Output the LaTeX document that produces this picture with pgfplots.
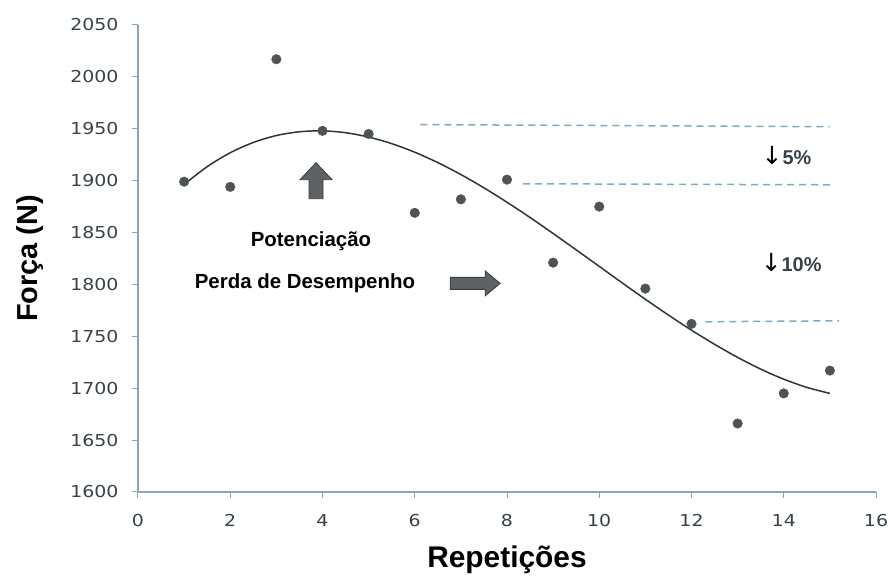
\documentclass[border=0pt]{standalone}
\usepackage{fontspec}
\setmainfont{Liberation Sans}
\newfontfamily\tickfont[FakeStretch=1.15]{DejaVu Sans}
\newfontfamily\symfont{DejaVu Sans}
\usepackage{pgfplots}
\pgfplotsset{compat=1.18}

\definecolor{axisblue}{HTML}{8AA6B6}
\definecolor{dashblue}{HTML}{7FAAC2}
\definecolor{dotgray}{HTML}{4E5356}
\definecolor{trend}{HTML}{2A363D}
\definecolor{ticktxt}{HTML}{36414A}
\definecolor{blockfill}{HTML}{5E6264}
\definecolor{blockedge}{HTML}{3A3D3F}

\begin{document}
\begin{tikzpicture}
\begin{axis}[
    scale only axis,
    width=738bp, height=467bp,
    xmin=0, xmax=16, ymin=1600, ymax=2050,
    xtick distance=2, ytick distance=50,
    axis lines=left,
    axis line style={-, axisblue, line width=1.4bp},
    tick align=outside,
    major tick length=6bp,
    tick style={axisblue, line width=1bp},
    every tick label/.append style={font=\tickfont\fontsize{16.5}{16.5}\selectfont, text=ticktxt},
    xticklabel style={yshift=-13bp},
    yticklabel style={xshift=-10bp},
    /pgf/number format/assume math mode=true,
    /pgf/number format/1000 sep={},
    clip=false,
]
% cubic trend line
\addplot[trend, line width=1.5bp, smooth] coordinates {
    (1,1896.4) (1.5,1913.5) (2,1926.9) (2.5,1936.8) (3,1943.5) (3.5,1947.1)
    (4,1948.0) (4.5,1946.2) (5,1942.0) (5.5,1935.7) (6,1927.4) (6.5,1917.4)
    (7,1905.9) (7.5,1893.1) (8,1879.2) (8.5,1864.5) (9,1849.1) (9.5,1833.3)
    (10,1817.4) (10.5,1801.4) (11,1785.7) (11.5,1770.5) (12,1755.9) (12.5,1742.3)
    (13,1729.7) (13.5,1718.4) (14,1708.7) (14.5,1700.8) (15,1695.0)
};
% measured force
\addplot[only marks, mark=*, mark size=4.8bp, mark options={fill=dotgray, draw=dotgray}] coordinates {
    (1,1899) (2,1894) (3,2017) (4,1948) (5,1945) (6,1869) (7,1882)
    (8,1901) (9,1821) (10,1875) (11,1796) (12,1762) (13,1666) (14,1695) (15,1717)
};
% reference levels
\addplot[dashblue, line width=1.5bp, dash pattern=on 7bp off 5bp] coordinates {(6.12,1954) (15.0,1952)};
\addplot[dashblue, line width=1.5bp, dash pattern=on 7bp off 5bp] coordinates {(8.35,1897) (15.08,1896)};
\addplot[dashblue, line width=1.5bp, dash pattern=on 7bp off 5bp] coordinates {(12.3,1764) (15.2,1765)};

\node[font=\bfseries\fontsize{20.5}{20.5}\selectfont] at (axis cs:3.75,1842) {Potenciação};
\node[font=\bfseries\fontsize{20.5}{20.5}\selectfont] at (axis cs:3.62,1801) {Perda de Desempenho};
\node[text=ticktxt, inner sep=0] at (axis cs:14.06,1924) {{\symfont\fontsize{25}{25}\selectfont\color{black}↓}{\bfseries\fontsize{20}{20}\selectfont 5\%}};
\node[text=ticktxt, inner sep=0] at (axis cs:14.16,1821) {{\symfont\fontsize{25}{25}\selectfont\color{black}↓}{\bfseries\fontsize{20}{20}\selectfont 10\%}};

\coordinate (upA) at (axis cs:3.86,1900);
\coordinate (rtA) at (axis cs:7.31,1801);
\end{axis}

\node[rotate=90, font=\bfseries\fontsize{29}{29}\selectfont] at ([xshift=-108bp]current axis.west) {Força (N)};
\node[font=\bfseries\fontsize{30}{30}\selectfont] at ([yshift=-68bp]current axis.south) {Repetições};

\begin{scope}[shift={(upA)}]
  \filldraw[fill=blockfill, draw=blockedge, line width=0.8bp]
    (-7bp,-18bp) -- (7bp,-18bp) -- (7bp,1bp) -- (16bp,1bp) -- (0,18bp) -- (-16bp,1bp) -- (-7bp,1bp) -- cycle;
\end{scope}
\begin{scope}[shift={(rtA)}]
  \filldraw[fill=blockfill, draw=blockedge, line width=0.8bp]
    (-25bp,-6bp) -- (10bp,-6bp) -- (10bp,-12.5bp) -- (25bp,0) -- (10bp,12.5bp) -- (10bp,6bp) -- (-25bp,6bp) -- cycle;
\end{scope}

\pgfresetboundingbox
\path ([shift={(-138bp,-87bp)}]current axis.south west) rectangle ([shift={(12bp,25bp)}]current axis.north east);
\end{tikzpicture}
\end{document}
